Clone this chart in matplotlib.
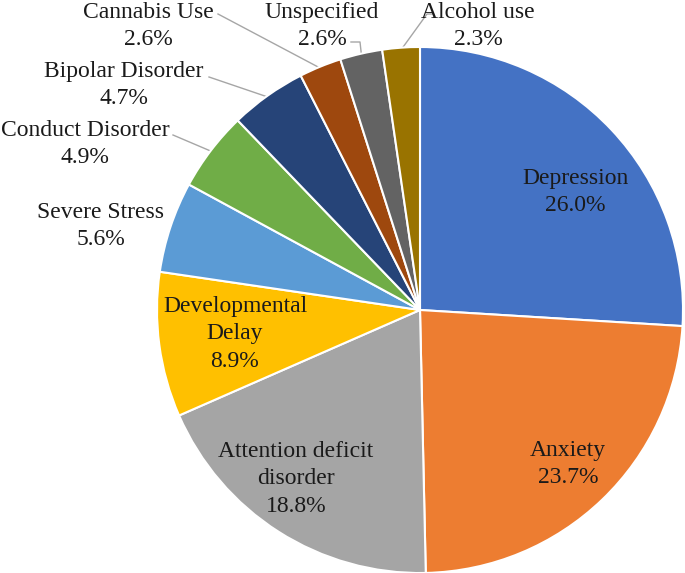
import numpy as np
import matplotlib.pyplot as plt

labels = ['Depression', 'Anxiety', 'Attention deficit\ndisorder', 'Developmental\nDelay',
          'Severe Stress', 'Conduct Disorder', 'Bipolar Disorder', 'Cannabis Use',
          'Unspecified', 'Alcohol use']
values = [26.0, 23.7, 18.8, 8.9, 5.6, 4.9, 4.7, 2.6, 2.6, 2.3]
colors = ['#4472C4', '#ED7D31', '#A5A5A5', '#FFC000', '#5B9BD5', '#70AD47',
          '#264478', '#9E480E', '#636363', '#997300']

# label centres in pixel space (x, y from top)
label_pos = [(575, 192), (568, 464), (296, 479), (235, 334), (101, 226),
             (85, 144), (124, 85), (148, 26), (322, 26), (478, 26)]
# leader line start (pixel space), None = no leader
leader_start = [None, None, None, None, None,
                (173, 135), (209, 77), (218, 14), (351, 42), (433, 14)]
leader_elbow = [None, None, None, None, None,
                None, None, None, (360, 42), (427, 14)]

W, H = 685, 573
cx, cy, r = 420, 310, 263

fig = plt.figure(figsize=(W / 100, H / 100), dpi=100)
ax = fig.add_axes([0, 0, 1, 1])

wedges, _ = ax.pie(values, colors=colors, startangle=90, counterclock=False,
                   center=(cx, H - cy), radius=r,
                   wedgeprops=dict(edgecolor='white', linewidth=1.5))
ax.set_xlim(0, W)
ax.set_ylim(0, H)
ax.set_aspect('equal')
ax.axis('off')

for i, w in enumerate(wedges):
    px, py = label_pos[i]
    ax.text(px, H - py, f'{labels[i]}\n{values[i]:.1f}%', ha='center', va='center',
            fontsize=17, family='Liberation Serif', linespacing=1.38, color='#1a1a1a')
    if leader_start[i] is not None:
        ang = np.deg2rad((w.theta1 + w.theta2) / 2)
        ex = cx + (r - 2) * np.cos(ang)
        ey = H - cy + (r - 2) * np.sin(ang)
        xs = [leader_start[i][0]]
        ys = [H - leader_start[i][1]]
        if leader_elbow[i] is not None:
            xs.append(leader_elbow[i][0])
            ys.append(H - leader_elbow[i][1])
        xs.append(ex)
        ys.append(ey)
        ax.plot(xs, ys, color='#A6A6A6', lw=1.0, zorder=0.5)

plt.savefig('out.png', dpi=100)
